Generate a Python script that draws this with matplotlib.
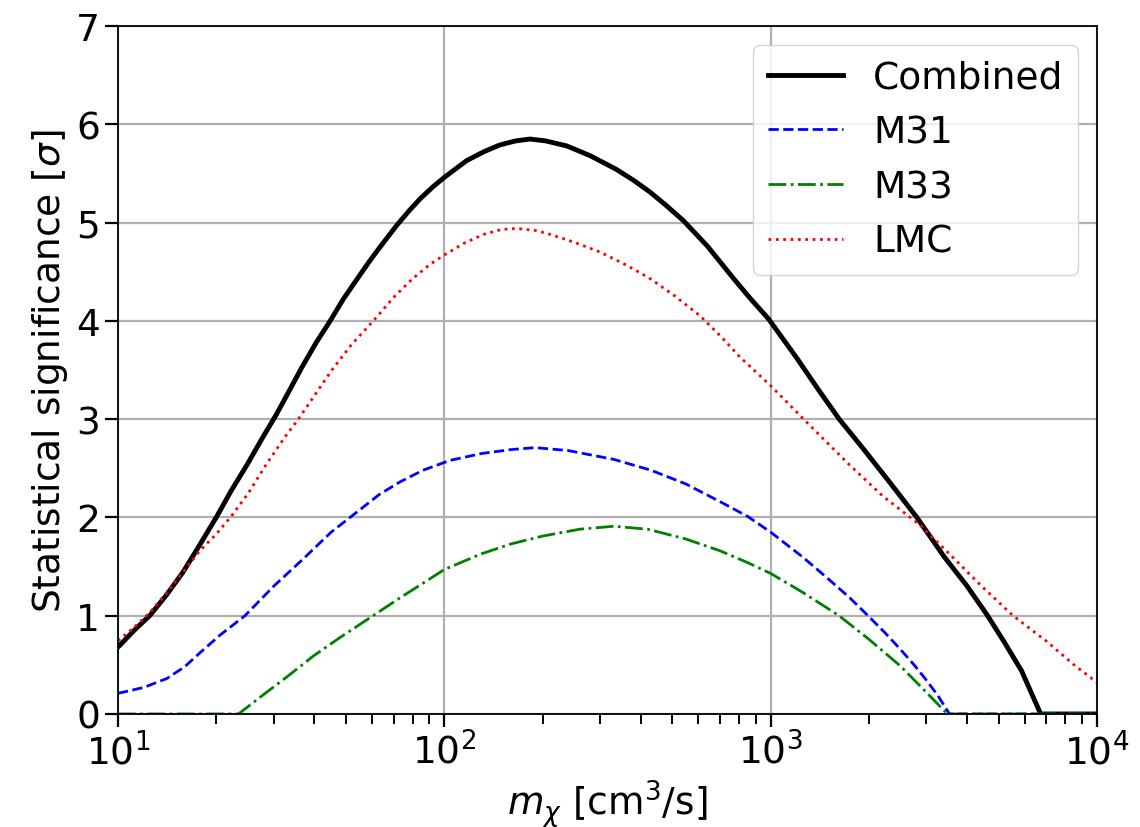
import matplotlib
matplotlib.use("Agg")
import matplotlib.pyplot as plt

# values (x in cm^3/s, y in sigma)
x_comb = [10, 11.2, 12.5, 14, 15.8, 17.8, 20, 22.3, 24.8, 27.5, 30.6, 33.5, 36.5, 40.5,
          44.7, 49, 53.9, 58.5, 63.5, 71.4, 78, 84.2, 92, 100, 117, 132, 148, 165, 183,
          205, 237, 280, 337, 380, 427, 480, 540, 640, 770, 870, 985, 1203, 1400, 1622,
          1920, 2300, 2805, 3400, 3980, 4600, 5200, 5870, 6720, 10000]
y_comb = [0.68, 0.85, 1.0, 1.2, 1.44, 1.72, 2.0, 2.28, 2.53, 2.79, 3.05, 3.29, 3.52, 3.78,
          4.0, 4.22, 4.42, 4.59, 4.75, 4.97, 5.12, 5.24, 5.36, 5.46, 5.63, 5.72, 5.79, 5.83,
          5.85, 5.83, 5.78, 5.68, 5.54, 5.43, 5.31, 5.17, 5.02, 4.76, 4.43, 4.22, 4.02,
          3.62, 3.3, 3.0, 2.70, 2.37, 2.0, 1.6, 1.31, 1.01, 0.73, 0.44, 0.0, 0.0]

x_m31 = [10, 12, 14.1, 16, 17.8, 20.5, 24.5, 30, 37, 45, 55.2, 63, 73, 86, 104, 130,
         160, 190, 240, 331, 430, 550, 700, 850, 1000, 1250, 1507, 1750, 1987, 2250,
         2494, 2750, 2974, 3250, 3530, 10000]
y_m31 = [0.21, 0.27, 0.36, 0.48, 0.62, 0.8, 1.0, 1.3, 1.58, 1.85, 2.08, 2.23, 2.36, 2.48,
         2.58, 2.65, 2.69, 2.71, 2.68, 2.59, 2.48, 2.34, 2.16, 2.01, 1.85, 1.6, 1.37, 1.18,
         1.0, 0.82, 0.66, 0.5, 0.36, 0.19, 0.0, 0.0]

x_m33 = [10, 23.4, 28, 33, 39.7, 48, 60.5, 73, 86, 100, 130, 160, 200, 260, 331, 420,
         550, 700, 850, 1000, 1250, 1620, 2000, 2494, 3000, 3480, 10000]
y_m33 = [0.0, 0.0, 0.2, 0.38, 0.59, 0.78, 1.0, 1.18, 1.33, 1.47, 1.63, 1.73, 1.81, 1.88,
         1.91, 1.88, 1.78, 1.66, 1.54, 1.43, 1.24, 1.0, 0.76, 0.49, 0.22, 0.0, 0.0]

x_lmc = [10, 11.2, 12.5, 14, 15.8, 17.8, 20, 22.1, 25, 28.6, 32.5, 35.7, 40, 45, 52,
         60.6, 70, 79.4, 90, 100, 115, 132, 150, 167, 190, 211, 250, 300, 360, 427, 510,
         608, 700, 806, 1000, 1262, 1500, 1750, 2200, 2850, 3550, 4400, 5530, 7000,
         8500, 10000]
y_lmc = [0.745, 0.88, 1.03, 1.22, 1.44, 1.66, 1.83, 2.0, 2.24, 2.55, 2.82, 3.0, 3.24,
         3.49, 3.76, 4.0, 4.24, 4.42, 4.57, 4.67, 4.79, 4.88, 4.93, 4.94, 4.92, 4.88,
         4.80, 4.70, 4.57, 4.43, 4.25, 4.05, 3.85, 3.63, 3.34, 3.0, 2.75, 2.53, 2.22,
         1.93, 1.62, 1.31, 1.0, 0.74, 0.5, 0.32]

FS = 27

fig = plt.figure(figsize=(11.4, 8.28), dpi=100)
ax = fig.add_axes([0.1035, 0.1365, 0.8588, 0.8309])

ax.plot(x_comb, y_comb, color='k', linewidth=3.5, label='Combined')
ax.plot(x_m31, y_m31, color='b', linestyle='--', linewidth=2, label='M31')
ax.plot(x_m33, y_m33, color='g', linestyle='-.', linewidth=2, label='M33')
ax.plot(x_lmc, y_lmc, color='r', linestyle=':', linewidth=2, label='LMC')

ax.set_xscale('log')
ax.set_xlim(10, 1e4)
ax.set_ylim(0, 7)
ax.set_yticks(range(0, 8))

ax.grid(True, color='#b0b0b0', linewidth=1.6)
ax.tick_params(axis='both', which='major', labelsize=FS, length=9.5, width=1.6)
ax.tick_params(axis='both', which='minor', length=7, width=1.4)
for sp in ax.spines.values():
    sp.set_linewidth(1.3)

ax.set_xlabel(r'$m_\chi$ [cm$^3$/s]', fontsize=FS)
ax.set_ylabel(r'Statistical significance [$\sigma$]', fontsize=FS)
ax.legend(loc='upper right', fontsize=FS)

fig.savefig('out.png', dpi=100)
